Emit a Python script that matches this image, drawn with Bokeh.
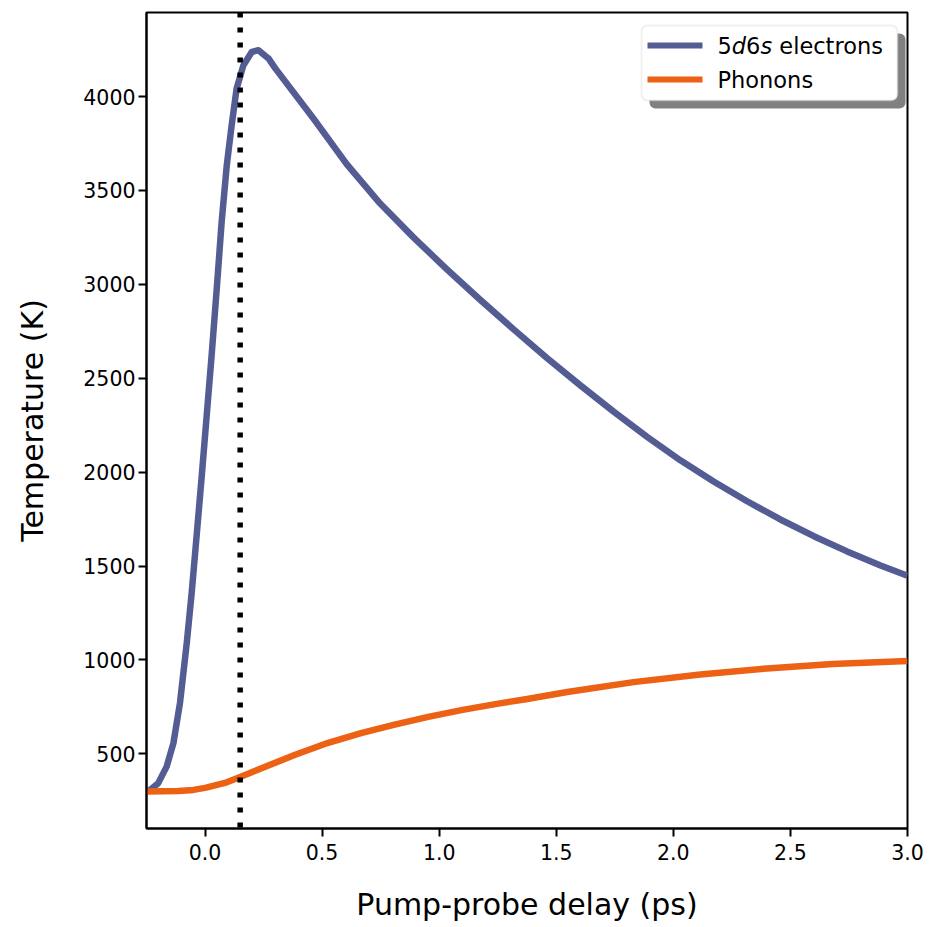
from bokeh.plotting import figure
from bokeh.models import Range1d, FixedTicker, Span, BoxAnnotation, Label, NumeralTickFormatter
from bokeh.embed import file_html
from bokeh.resources import INLINE

# ---------------- data ----------------
electron_t = [-0.25, -0.235, -0.20, -0.164, -0.135, -0.107, -0.078, -0.057, -0.036, -0.014,
              0.007, 0.028, 0.05, 0.071, 0.093, 0.114, 0.135, 0.164, 0.20, 0.228,
              0.271, 0.30, 0.463, 0.605, 0.748, 0.89, 1.033, 1.175, 1.318, 1.46,
              1.603, 1.745, 1.888, 2.03, 2.172, 2.315, 2.457, 2.60, 2.742, 2.885, 3.0]
electron_T = [300, 308, 344, 432, 557, 771, 1091, 1358, 1660, 1980,
              2300, 2620, 2976, 3333, 3636, 3850, 4043, 4167, 4238, 4247,
              4203, 4150, 3883, 3640, 3430, 3250, 3080, 2918, 2760, 2608,
              2462, 2322, 2188, 2063, 1950, 1845, 1748, 1659, 1578, 1503, 1448]

phonon_t = [-0.25, -0.115, -0.05, 0.0, 0.085, 0.15, 0.244, 0.385, 0.526, 0.67, 0.81,
            0.953, 1.10, 1.24, 1.37, 1.547, 1.83, 2.115, 2.40, 2.68, 3.0]
phonon_T = [300, 302, 308, 319, 345, 377, 425, 495, 559, 612, 656,
            697, 734, 765, 791, 829, 882, 923, 955, 978, 994]

probe_delay = 0.15

x_ticks = [0.0, 0.5, 1.0, 1.5, 2.0, 2.5, 3.0]
y_ticks = [500, 1000, 1500, 2000, 2500, 3000, 3500, 4000]
x_label = "Pump-probe delay (ps)"
y_label = "Temperature (K)"

# ---------------- styling / layout ----------------
X0, X1 = -0.25, 3.0
Y0, Y1 = 102.5, 4447.5
FRAME_L, FRAME_T, FRAME_W, FRAME_H = 146, 12, 761, 816

BLUE = "#545c94"
ORANGE = "#ec6113"
FONT = "DejaVu Sans"


def px_x(px):
    return X0 + (px - FRAME_L) / FRAME_W * (X1 - X0)


def px_y(py):
    return Y1 - (py - FRAME_T) / FRAME_H * (Y1 - Y0)


p = figure(frame_width=FRAME_W, frame_height=FRAME_H,
           x_range=Range1d(X0, X1), y_range=Range1d(Y0, Y1),
           output_backend="svg", toolbar_location=None,
           min_border_left=FRAME_L, min_border_top=FRAME_T,
           min_border_right=23, min_border_bottom=99)

p.background_fill_color = "white"
p.border_fill_color = "white"
p.grid.visible = False
p.outline_line_color = "black"
p.outline_line_width = 2

for ax in (p.xaxis[0], p.yaxis[0]):
    ax.axis_line_color = "black"
    ax.axis_line_width = 2
    ax.major_tick_line_color = "black"
    ax.major_tick_line_width = 2
    ax.major_tick_out = 8
    ax.major_tick_in = 0
    ax.minor_tick_line_color = None
    ax.major_label_text_font = FONT
    ax.major_label_text_font_size = "20.5px"
    ax.major_label_text_color = "black"
    ax.axis_label_text_font = FONT
    ax.axis_label_text_font_size = "30px"
    ax.axis_label_text_font_style = "normal"
    ax.axis_label_text_color = "black"

p.xaxis.major_label_standoff = 7
p.yaxis.major_label_standoff = 3
p.xaxis.ticker = FixedTicker(ticks=x_ticks)
p.yaxis.ticker = FixedTicker(ticks=y_ticks)
p.xaxis.formatter = NumeralTickFormatter(format="0.0")
p.yaxis.formatter = NumeralTickFormatter(format="0")
p.xaxis.axis_label = x_label
p.yaxis.axis_label = y_label
p.xaxis.axis_label_standoff = 24
p.yaxis.axis_label_standoff = 30

p.line(electron_t, electron_T, line_color=BLUE, line_width=6.5, line_join="round")
p.line(phonon_t, phonon_T, line_color=ORANGE, line_width=6.5, line_join="round")

p.add_layout(Span(location=probe_delay, dimension="height", line_color="black",
                  line_width=5.5, line_dash="5 10"))

# ---------------- legend (drawn manually, with shadow) ----------------
shadow = BoxAnnotation(left=px_x(649), right=px_x(905), top=px_y(33), bottom=px_y(108),
                       fill_color="#808080", fill_alpha=1.0, line_color=None,
                       border_radius=6)
box = BoxAnnotation(left=px_x(641), right=px_x(897), top=px_y(25), bottom=px_y(100),
                    fill_color="white", fill_alpha=1.0, line_color="#cccccc",
                    line_width=2, border_radius=6)
p.add_layout(shadow)
p.add_layout(box)

row_y = [45, 79]
colors = [BLUE, ORANGE]
for ry, c in zip(row_y, colors):
    p.add_layout(BoxAnnotation(left=px_x(647), right=px_x(702),
                               top=px_y(ry - 3), bottom=px_y(ry + 3),
                               fill_color=c, fill_alpha=1.0, line_color=None))

LEG_FS = "22.5px"
pieces = [("5", "normal", 717), ("d", "italic", 731.3), ("6", "normal", 745.6),
          ("s", "italic", 759.9), ("electrons", "normal", 778.8)]
for txt, style, x in pieces:
    p.add_layout(Label(x=px_x(x), y=px_y(row_y[0]), text=txt, text_font=FONT,
                       text_font_size=LEG_FS, text_font_style=style,
                       text_baseline="middle", text_align="left", text_color="black"))
p.add_layout(Label(x=px_x(717), y=px_y(row_y[1]), text="Phonons", text_font=FONT,
                   text_font_size=LEG_FS, text_baseline="middle", text_align="left",
                   text_color="black"))

open("out.html", "w").write(file_html(p, INLINE))
